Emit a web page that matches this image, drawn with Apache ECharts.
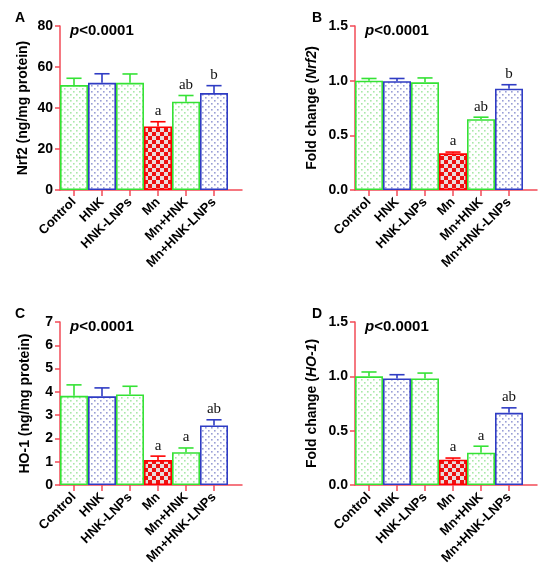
<!DOCTYPE html>
<html>
<head>
<meta charset="utf-8">
<script src="https://cdn.jsdelivr.net/npm/echarts@6/dist/echarts.min.js"></script>
<style>
  html, body { margin: 0; padding: 0; background: #fff; }
  #chart { width: 550px; height: 570px; }
</style>
</head>
<body>
<div id="chart"></div>
<script>
// groups on the x axis
var groups = ['Control', 'HNK', 'HNK-LNPs', 'Mn', 'Mn+HNK', 'Mn+HNK-LNPs']

// A - Nrf2 protein (ng/mg protein)
var nrf2Protein = [51.2, 52.3, 52.3, 31.0, 43.1, 47.3]
var nrf2ProteinErr = [3.3, 4.4, 4.3, 2.3, 3.0, 3.6]
// B - Nrf2 fold change
var nrf2Fold = [1.0, 0.995, 0.985, 0.335, 0.648, 0.927]
var nrf2FoldErr = [0.02, 0.025, 0.04, 0.012, 0.018, 0.036]
// C - HO-1 protein (ng/mg protein)
var ho1Protein = [3.83, 3.81, 3.89, 1.07, 1.41, 2.56]
var ho1ProteinErr = [0.47, 0.36, 0.35, 0.17, 0.18, 0.24]
// D - HO-1 fold change
var ho1Fold = [1.0, 0.98, 0.98, 0.233, 0.297, 0.664]
var ho1FoldErr = [0.04, 0.035, 0.05, 0.015, 0.06, 0.046]

// significance letters
var lettersNrf2 = ['', '', '', 'a', 'ab', 'b']
var lettersHo1 = ['', '', '', 'a', 'a', 'ab']

// y axis ticks [min, max, step]
var ticksA = [0, 80, 20]
var ticksFold = [0, 1.5, 0.5]
var ticksC = [0, 7, 1]

var AXIS = '#f24b57'
var GREEN = '#35e235'
var BLUE = '#2f3cc4'
var RED = '#ff0000'

function dots(dotColor) {
  var c = document.createElement('canvas')
  c.width = 6; c.height = 6
  var g = c.getContext('2d')
  g.fillStyle = '#ffffff'
  g.fillRect(0, 0, 6, 6)
  g.fillStyle = dotColor
  g.fillRect(1, 1, 1.6, 1.6)
  g.fillRect(4, 4, 1.6, 1.6)
  return c
}
function checker() {
  var c = document.createElement('canvas')
  c.width = 8; c.height = 8
  var g = c.getContext('2d')
  g.fillStyle = '#ee1111'
  g.fillRect(0, 0, 8, 8)
  g.fillStyle = '#e9dcdc'
  g.fillRect(0, 0, 4, 4)
  g.fillRect(4, 4, 4, 4)
  return c
}
var greenFill = { image: dots('#a9e8a9'), repeat: 'repeat' }
var blueFill = { image: dots('#9a9fd6'), repeat: 'repeat' }
var redFill = { image: checker(), repeat: 'repeat' }

var borderCols = [GREEN, BLUE, GREEN, RED, GREEN, BLUE]
var fills = [greenFill, blueFill, greenFill, redFill, greenFill, blueFill]

var panels = [
  { key: 'A', left: 60, top: 26, height: 164, vals: nrf2Protein, err: nrf2ProteinErr, letters: lettersNrf2, ticks: ticksA, dec: 0,
    name: '{n|Nrf2 (ng/mg protein)}', gap: 30 },
  { key: 'B', left: 355, top: 26, height: 164, vals: nrf2Fold, err: nrf2FoldErr, letters: lettersNrf2, ticks: ticksFold, dec: 1,
    name: '{n|Fold change (}{i|Nrf2}{n|)}', gap: 36 },
  { key: 'C', left: 60, top: 322, height: 163, vals: ho1Protein, err: ho1ProteinErr, letters: lettersHo1, ticks: ticksC, dec: 0,
    name: '{n|HO-1 (ng/mg protein)}', gap: 28 },
  { key: 'D', left: 355, top: 322, height: 163, vals: ho1Fold, err: ho1FoldErr, letters: lettersHo1, ticks: ticksFold, dec: 1,
    name: '{n|Fold change (}{i|HO-1}{n|)}', gap: 36 }
]

var labelFont = { fontFamily: 'Liberation Sans', fontWeight: 'bold', color: '#000' }

var grid = [], xAxis = [], yAxis = [], series = [], title = []

panels.forEach(function (p, k) {
  grid.push({ left: p.left, top: p.top, width: 168, height: p.height })
  xAxis.push({
    type: 'category', gridIndex: k, data: groups,
    axisLine: { show: false },
    axisTick: { show: true, alignWithLabel: true, length: 6, lineStyle: { color: AXIS, width: 1.5 } },
    axisLabel: Object.assign({ rotate: 45, fontSize: 13, margin: 10, interval: 0 }, labelFont)
  })
  yAxis.push({
    type: 'value', gridIndex: k, min: p.ticks[0], max: p.ticks[1], interval: p.ticks[2],
    splitLine: { show: false },
    axisLine: { show: true, lineStyle: { color: AXIS, width: 1.5 } },
    axisTick: { show: true, length: 5, lineStyle: { color: AXIS, width: 1.5 } },
    axisLabel: Object.assign({ fontSize: 14, margin: 7, formatter: function (v) { return v.toFixed(p.dec) } }, labelFont),
    name: p.name, nameLocation: 'middle', nameGap: p.gap,
    nameTextStyle: {
      rich: {
        n: { fontFamily: 'Liberation Sans', fontWeight: 'bold', fontSize: 14, color: '#000' },
        i: { fontFamily: 'Liberation Sans', fontWeight: 'bold', fontStyle: 'italic', fontSize: 14, color: '#000' }
      }
    }
  })
  series.push({
    type: 'bar', xAxisIndex: k, yAxisIndex: k, barCategoryGap: '0%', z: 2,
    data: p.vals.map(function (v, i) {
      return { value: v, itemStyle: { color: fills[i], borderColor: borderCols[i], borderWidth: 1.6 } }
    })
  })
  series.push({
    type: 'custom', xAxisIndex: k, yAxisIndex: k, z: 3,
    data: p.vals.map(function (v, i) { return [i, v, v + p.err[i]] }),
    renderItem: function (params, api) {
      var i = params.dataIndex
      var base = api.coord([api.value(0), api.value(1)])
      var top = api.coord([api.value(0), api.value(2)])
      var half = api.size([1, 0])[0] * 0.27
      var st = { stroke: borderCols[i], lineWidth: 1.6 }
      return {
        type: 'group', children: [
          { type: 'line', shape: { x1: base[0], y1: base[1], x2: top[0], y2: top[1] }, style: st },
          { type: 'line', shape: { x1: top[0] - half, y1: top[1], x2: top[0] + half, y2: top[1] }, style: st },
          { type: 'text', x: top[0], y: top[1] - 3,
            style: { text: p.letters[i], textAlign: 'center', textVerticalAlign: 'bottom',
              font: '15px "Liberation Serif"', fill: '#111' } }
        ]
      }
    }
  })
  title.push({
    text: '{p|p}{t|<0.0001}', left: p.left + 5, top: p.top - 8,
    textStyle: { rich: {
      p: { fontFamily: 'Liberation Sans', fontWeight: 'bold', fontStyle: 'italic', fontSize: 15, color: '#000' },
      t: { fontFamily: 'Liberation Sans', fontWeight: 'bold', fontSize: 15, color: '#000' }
    } }
  })
  title.push({
    text: p.key, left: p.left - (k % 2 ? 48 : 50), top: p.top - 20,
    textStyle: { fontFamily: 'Liberation Sans', fontWeight: 'bold', fontSize: 14, color: '#000' }
  })
})

// second grids only carry the x axis line, which runs a little past the last bar
panels.forEach(function (p, k) {
  var gi = panels.length + k
  grid.push({ left: p.left, top: p.top, width: 182, height: p.height })
  xAxis.push({
    type: 'value', gridIndex: gi, min: 0, max: 1,
    axisLine: { show: true, onZero: false, lineStyle: { color: AXIS, width: 1.5 } },
    axisTick: { show: false }, axisLabel: { show: false }, splitLine: { show: false }
  })
  yAxis.push({ type: 'value', gridIndex: gi, show: false, min: 0, max: 1 })
})

var chart = echarts.init(document.getElementById('chart'), null, { renderer: 'canvas' })
chart.setOption({
  animation: false,
  backgroundColor: '#fff',
  title: title,
  grid: grid,
  xAxis: xAxis,
  yAxis: yAxis,
  series: series
})
</script>
</body>
</html>
